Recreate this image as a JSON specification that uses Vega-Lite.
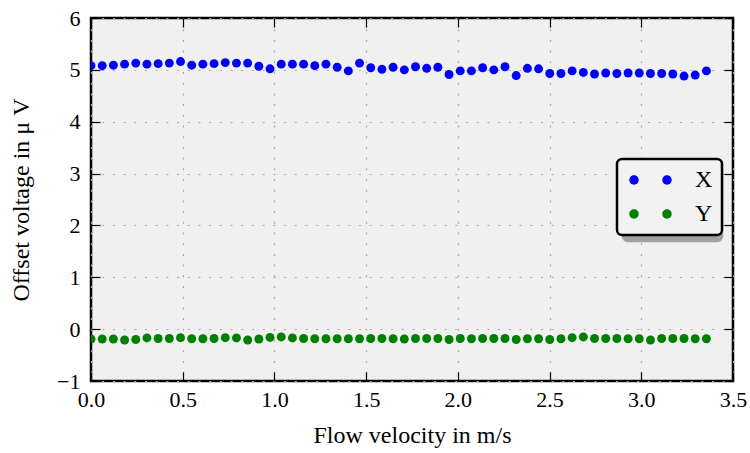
{
  "$schema": "https://vega.github.io/schema/vega-lite/v6.json",
  "width": 642,
  "height": 363,
  "autosize": "none",
  "padding": {"left": 91, "top": 18, "right": 17, "bottom": 72},
  "background": "white",
  "config": {
    "font": "Liberation Serif",
    "view": {"fill": "#f0f0f0", "stroke": "black", "strokeWidth": 2.5},
    "axis": {
      "domain": false,
      "tickSize": -9,
      "tickColor": "black",
      "tickWidth": 1.2,
      "labelFont": "Liberation Serif",
      "labelFontSize": 22,
      "labelColor": "black",
      "labelFlush": false,
      "labelOverlap": false,
      "titleFont": "Liberation Serif",
      "titleFontSize": 24,
      "titleFontWeight": "normal",
      "titleColor": "black",
      "gridColor": "#a8a8a8",
      "gridDash": [2, 8.7],
      "gridWidth": 1.2
    },
    "legend": {
      "strokeWidth": 2.5,
      "cornerRadius": 5,
      "padding": 9,
      "labelFont": "Liberation Serif",
      "labelFontSize": 24,
      "symbolSize": 400,
      "symbolStrokeWidth": 0,
      "labelOffset": 45,
      "rowPadding": 10
    }
  },
  "data": {
    "values": [
      {"velocity": 0.000, "series": "X", "voltage": 5.08},
      {"velocity": 0.061, "series": "X", "voltage": 5.08},
      {"velocity": 0.122, "series": "X", "voltage": 5.09},
      {"velocity": 0.183, "series": "X", "voltage": 5.11},
      {"velocity": 0.244, "series": "X", "voltage": 5.13},
      {"velocity": 0.305, "series": "X", "voltage": 5.11},
      {"velocity": 0.366, "series": "X", "voltage": 5.12},
      {"velocity": 0.427, "series": "X", "voltage": 5.13},
      {"velocity": 0.488, "series": "X", "voltage": 5.16},
      {"velocity": 0.549, "series": "X", "voltage": 5.09},
      {"velocity": 0.610, "series": "X", "voltage": 5.11},
      {"velocity": 0.671, "series": "X", "voltage": 5.12},
      {"velocity": 0.732, "series": "X", "voltage": 5.14},
      {"velocity": 0.793, "series": "X", "voltage": 5.13},
      {"velocity": 0.854, "series": "X", "voltage": 5.13},
      {"velocity": 0.915, "series": "X", "voltage": 5.07},
      {"velocity": 0.976, "series": "X", "voltage": 5.02},
      {"velocity": 1.037, "series": "X", "voltage": 5.11},
      {"velocity": 1.098, "series": "X", "voltage": 5.11},
      {"velocity": 1.159, "series": "X", "voltage": 5.11},
      {"velocity": 1.220, "series": "X", "voltage": 5.08},
      {"velocity": 1.281, "series": "X", "voltage": 5.11},
      {"velocity": 1.342, "series": "X", "voltage": 5.05},
      {"velocity": 1.403, "series": "X", "voltage": 4.98},
      {"velocity": 1.464, "series": "X", "voltage": 5.13},
      {"velocity": 1.525, "series": "X", "voltage": 5.04},
      {"velocity": 1.586, "series": "X", "voltage": 5.01},
      {"velocity": 1.647, "series": "X", "voltage": 5.05},
      {"velocity": 1.708, "series": "X", "voltage": 5.00},
      {"velocity": 1.769, "series": "X", "voltage": 5.06},
      {"velocity": 1.830, "series": "X", "voltage": 5.03},
      {"velocity": 1.891, "series": "X", "voltage": 5.05},
      {"velocity": 1.952, "series": "X", "voltage": 4.91},
      {"velocity": 2.013, "series": "X", "voltage": 4.98},
      {"velocity": 2.074, "series": "X", "voltage": 4.98},
      {"velocity": 2.135, "series": "X", "voltage": 5.04},
      {"velocity": 2.196, "series": "X", "voltage": 5.00},
      {"velocity": 2.257, "series": "X", "voltage": 5.06},
      {"velocity": 2.318, "series": "X", "voltage": 4.89},
      {"velocity": 2.379, "series": "X", "voltage": 5.03},
      {"velocity": 2.440, "series": "X", "voltage": 5.02},
      {"velocity": 2.501, "series": "X", "voltage": 4.93},
      {"velocity": 2.562, "series": "X", "voltage": 4.93},
      {"velocity": 2.623, "series": "X", "voltage": 4.98},
      {"velocity": 2.684, "series": "X", "voltage": 4.95},
      {"velocity": 2.745, "series": "X", "voltage": 4.92},
      {"velocity": 2.806, "series": "X", "voltage": 4.94},
      {"velocity": 2.867, "series": "X", "voltage": 4.93},
      {"velocity": 2.928, "series": "X", "voltage": 4.94},
      {"velocity": 2.989, "series": "X", "voltage": 4.94},
      {"velocity": 3.050, "series": "X", "voltage": 4.93},
      {"velocity": 3.111, "series": "X", "voltage": 4.93},
      {"velocity": 3.172, "series": "X", "voltage": 4.92},
      {"velocity": 3.233, "series": "X", "voltage": 4.88},
      {"velocity": 3.294, "series": "X", "voltage": 4.90},
      {"velocity": 3.355, "series": "X", "voltage": 4.98},
      {"velocity": 0.000, "series": "Y", "voltage": -0.19},
      {"velocity": 0.061, "series": "Y", "voltage": -0.19},
      {"velocity": 0.122, "series": "Y", "voltage": -0.19},
      {"velocity": 0.183, "series": "Y", "voltage": -0.21},
      {"velocity": 0.244, "series": "Y", "voltage": -0.20},
      {"velocity": 0.305, "series": "Y", "voltage": -0.17},
      {"velocity": 0.366, "series": "Y", "voltage": -0.18},
      {"velocity": 0.427, "series": "Y", "voltage": -0.18},
      {"velocity": 0.488, "series": "Y", "voltage": -0.165},
      {"velocity": 0.549, "series": "Y", "voltage": -0.185},
      {"velocity": 0.610, "series": "Y", "voltage": -0.185},
      {"velocity": 0.671, "series": "Y", "voltage": -0.18},
      {"velocity": 0.732, "series": "Y", "voltage": -0.165},
      {"velocity": 0.793, "series": "Y", "voltage": -0.17},
      {"velocity": 0.854, "series": "Y", "voltage": -0.21},
      {"velocity": 0.915, "series": "Y", "voltage": -0.19},
      {"velocity": 0.976, "series": "Y", "voltage": -0.16},
      {"velocity": 1.037, "series": "Y", "voltage": -0.15},
      {"velocity": 1.098, "series": "Y", "voltage": -0.17},
      {"velocity": 1.159, "series": "Y", "voltage": -0.18},
      {"velocity": 1.220, "series": "Y", "voltage": -0.185},
      {"velocity": 1.281, "series": "Y", "voltage": -0.185},
      {"velocity": 1.342, "series": "Y", "voltage": -0.185},
      {"velocity": 1.403, "series": "Y", "voltage": -0.185},
      {"velocity": 1.464, "series": "Y", "voltage": -0.185},
      {"velocity": 1.525, "series": "Y", "voltage": -0.18},
      {"velocity": 1.586, "series": "Y", "voltage": -0.18},
      {"velocity": 1.647, "series": "Y", "voltage": -0.185},
      {"velocity": 1.708, "series": "Y", "voltage": -0.19},
      {"velocity": 1.769, "series": "Y", "voltage": -0.18},
      {"velocity": 1.830, "series": "Y", "voltage": -0.18},
      {"velocity": 1.891, "series": "Y", "voltage": -0.18},
      {"velocity": 1.952, "series": "Y", "voltage": -0.20},
      {"velocity": 2.013, "series": "Y", "voltage": -0.18},
      {"velocity": 2.074, "series": "Y", "voltage": -0.185},
      {"velocity": 2.135, "series": "Y", "voltage": -0.18},
      {"velocity": 2.196, "series": "Y", "voltage": -0.18},
      {"velocity": 2.257, "series": "Y", "voltage": -0.18},
      {"velocity": 2.318, "series": "Y", "voltage": -0.20},
      {"velocity": 2.379, "series": "Y", "voltage": -0.185},
      {"velocity": 2.440, "series": "Y", "voltage": -0.185},
      {"velocity": 2.501, "series": "Y", "voltage": -0.20},
      {"velocity": 2.562, "series": "Y", "voltage": -0.185},
      {"velocity": 2.623, "series": "Y", "voltage": -0.165},
      {"velocity": 2.684, "series": "Y", "voltage": -0.15},
      {"velocity": 2.745, "series": "Y", "voltage": -0.18},
      {"velocity": 2.806, "series": "Y", "voltage": -0.18},
      {"velocity": 2.867, "series": "Y", "voltage": -0.18},
      {"velocity": 2.928, "series": "Y", "voltage": -0.185},
      {"velocity": 2.989, "series": "Y", "voltage": -0.185},
      {"velocity": 3.050, "series": "Y", "voltage": -0.21},
      {"velocity": 3.111, "series": "Y", "voltage": -0.18},
      {"velocity": 3.172, "series": "Y", "voltage": -0.18},
      {"velocity": 3.233, "series": "Y", "voltage": -0.18},
      {"velocity": 3.294, "series": "Y", "voltage": -0.185},
      {"velocity": 3.355, "series": "Y", "voltage": -0.185}
    ]
  },
  "layer": [
    {
      "transform": [{"filter": "datum.voltage > -100"}],
      "mark": {"type": "point", "filled": true, "opacity": 0, "clip": true},
      "encoding": {
        "x": {
          "field": "velocity", "type": "quantitative",
          "scale": {"domain": [0, 3.5], "nice": false, "zero": false},
          "axis": {
            "orient": "bottom",
            "values": [0, 0.5, 1, 1.5, 2, 2.5, 3, 3.5],
            "format": ".1f",
            "grid": true,
            "labelPadding": 17,
            "title": "Flow velocity in m/s",
            "titlePadding": 13
          }
        },
        "y": {
          "field": "voltage", "type": "quantitative",
          "scale": {"domain": [-1, 6], "nice": false, "zero": false},
          "axis": {
            "orient": "left",
            "values": [-1, 0, 1, 2, 3, 4, 5, 6],
            "format": "d",
            "grid": true,
            "labelPadding": 20,
            "title": "Offset voltage in μ V",
            "titlePadding": 23
          }
        },
        "shape": {
          "field": "series", "type": "nominal",
          "scale": {"range": ["circle", "circle"]},
          "legend": {
            "orient": "none",
            "legendX": 532,
            "legendY": 147,
            "title": null,
            "fillColor": "#a0a0a0",
            "strokeColor": "#a0a0a0",
            "symbolOpacity": 0,
            "labelOpacity": 0,
            "labelExpr": "' '",
            "labelOffset": 56.3
          }
        }
      }
    },
    {
      "mark": {"type": "point", "filled": true, "opacity": 1, "size": 80, "clip": true},
      "encoding": {
        "x": {
          "field": "velocity", "type": "quantitative",
          "axis": {
            "orient": "top",
            "values": [0, 0.5, 1, 1.5, 2, 2.5, 3, 3.5],
            "labels": false,
            "grid": false,
            "title": null
          }
        },
        "y": {
          "field": "voltage", "type": "quantitative",
          "axis": {
            "orient": "right",
            "values": [-1, 0, 1, 2, 3, 4, 5, 6],
            "labels": false,
            "grid": false,
            "title": null
          }
        },
        "color": {
          "field": "series", "type": "nominal",
          "scale": {"domain": ["X", "Y"], "range": ["#0000ff", "#008000"]},
          "legend": {
            "orient": "none",
            "legendX": 526,
            "legendY": 141,
            "title": null,
            "fillColor": "#f2f2f2",
            "strokeColor": "black",
            "symbolOpacity": 1,
            "labelColor": "black",
            "symbolType": "M -0.87,0 A 0.47,0.47 0 1,0 0.07,0 A 0.47,0.47 0 1,0 -0.87,0 Z M 2.43,0 A 0.47,0.47 0 1,0 3.37,0 A 0.47,0.47 0 1,0 2.43,0 Z"
          }
        }
      }
    }
  ],
  "resolve": {"axis": {"x": "independent", "y": "independent"}}
}
